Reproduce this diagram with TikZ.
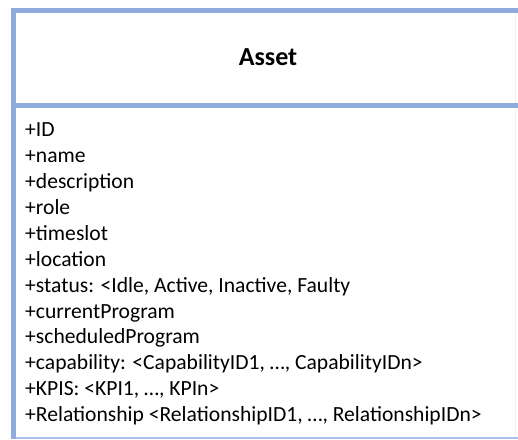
\documentclass[tikz,border=0pt]{standalone}
\usepackage{fontspec}
\setmainfont{Carlito}
\definecolor{umlblue}{RGB}{143,170,220}
\definecolor{umllight}{RGB}{170,192,230}
\tikzset{
  border/.style={draw=umlblue, line width=5pt},
  attr/.style={anchor=base west, inner sep=0pt, font=\fontsize{21.6}{21.6}\selectfont},
  title/.style={anchor=base, inner sep=0pt, font=\fontsize{26}{26}\bfseries\selectfont}
}
\begin{document}
\begin{tikzpicture}[x=1pt,y=1pt]
\useasboundingbox (0,0) rectangle (518,-439);
\fill[white] (0,0) rectangle (518,-439);
% faint right edge
\draw[black!6, line width=1pt] (515,-13) -- (515,-437);
% bottom line
\draw[umllight, line width=2pt] (13.5,-437.5) -- (518,-437.5);
% separator and top
\draw[border] (11,-10.5) -- (518,-10.5);
\draw[border] (11,-105.5) -- (518,-105.5);
\draw[border] (13.5,-8) -- (13.5,-439);
\node[title] (t) at (268,-65.7) {Asset};
\foreach \i/\t in {0/{+ID},1/{+name},2/{+description},3/{+role},4/{+timeslot},5/{+location},6/{+status: <Idle, Active, Inactive, Faulty},7/{+currentProgram},8/{+scheduledProgram},9/{+capability: <CapabilityID1, …, CapabilityIDn>},10/{+KPIS: <KPI1, …, KPIn>},11/{+Relationship <RelationshipID1, …, RelationshipIDn>}}
  \node[attr] (a\i) at (25,-136.7-25.9*\i) {\t};
\end{tikzpicture}
\end{document}
